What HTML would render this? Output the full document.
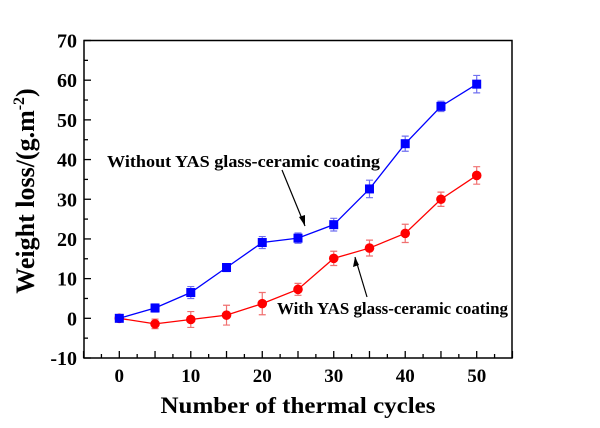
<!DOCTYPE html>
<html><head><meta charset="utf-8"><style>
body{margin:0;background:#fff;}
text{font-family:"Liberation Serif",serif;font-weight:bold;}
</style></head><body>
<svg id="chart" width="600" height="423" xmlns="http://www.w3.org/2000/svg">
<rect x="84" y="40.5" width="428" height="317.5" fill="none" stroke="#000" stroke-width="1.5"/>
<g id="axes"></g>
<g id="series"></g>
<text x="107" y="167" font-size="17" textLength="273" lengthAdjust="spacingAndGlyphs">Without YAS glass-ceramic coating</text>
<text x="277" y="314" font-size="17" textLength="231" lengthAdjust="spacingAndGlyphs">With YAS glass-ceramic coating</text>
<line x1="282" y1="170" x2="305" y2="226" stroke="#000" stroke-width="1.2"/>
<polygon points="305,226 299,217 305,215" fill="#000"/>
<line x1="367" y1="297" x2="355" y2="257" stroke="#000" stroke-width="1.2"/>
<polygon points="355,257 353,267 359,265" fill="#000"/>
<text transform="translate(34,191) rotate(-90)" text-anchor="middle" font-size="26">Weight loss/(g.m<tspan font-size="16" dy="-10">-2</tspan><tspan dy="10">)</tspan></text>
<text x="298" y="413" text-anchor="middle" font-size="23" textLength="275" lengthAdjust="spacingAndGlyphs">Number of thermal cycles</text>
</svg>
<script>
const cycles=[0,5,10,15,20,25,30,35,40,45,50];
const withoutVals=[0,2.6,6.5,12.8,19.1,20.2,23.6,32.6,44,53.4,59];
const withoutErr=[0.6,1,1.5,1,1.5,1.3,1.6,2.2,1.9,1.3,2.2];
const withVals=[0,-1.4,-0.3,0.8,3.7,7.3,15.1,17.7,21.4,30,36];
const withErr=[0.5,1.2,2,2.5,2.8,1.5,1.8,2,2.3,1.8,2.2];
const xTicks=[0,10,20,30,40,50];
const yTicks=[-10,0,10,20,30,40,50,60,70];
const NS="http://www.w3.org/2000/svg";
const X=v=>119.3+v*(476.7-119.3)/50;
const Y=v=>358-(v+10)*(358-40.5)/80;
const ax=document.getElementById('axes'),se=document.getElementById('series');
function mk(t,a,p){const e=document.createElementNS(NS,t);for(const k in a)e.setAttribute(k,a[k]);p.appendChild(e);return e;}
for(let v=-10;v<=70;v+=5){const maj=v%10===0;
const l=mk('line',{x1:84,x2:84+(maj?7:4),y1:Y(v),y2:Y(v),stroke:'#000','stroke-width':1.3},ax);

}
for(let v=-5;v<=55;v+=2.5){const maj=v%5===0;
const l=mk('line',{x1:X(v),x2:X(v),y1:358,y2:358-(maj?7:4),stroke:'#000','stroke-width':1.3},ax);

}
yTicks.forEach(v=>{const t=mk('text',{x:77,y:Y(v)+7,'text-anchor':'end','font-size':20},ax);t.textContent=v;

});
xTicks.forEach(v=>{const t=mk('text',{x:X(v),y:382,'text-anchor':'middle','font-size':19},ax);t.textContent=v;

});
function series(vals,errs,color,ecolor,shape,name){
const pts=cycles.map((c,i)=>X(c)+','+Y(vals[i])).join(' ');
const pl=mk('polyline',{points:pts,fill:'none',stroke:color,'stroke-width':1.3},se);


cycles.forEach((c,i)=>{const x=X(c),y1=Y(vals[i]+errs[i]),y2=Y(vals[i]-errs[i]);
const g=mk('path',{d:`M${x},${y1}V${y2}M${x-3.5},${y1}H${x+3.5}M${x-3.5},${y2}H${x+3.5}`,stroke:ecolor,'stroke-width':1.2,fill:'none'},se);


const y=Y(vals[i]);let m;
if(shape==='sq')m=mk('rect',{x:x-4.5,y:y-4.5,width:9,height:9,fill:color},se);
else m=mk('circle',{cx:x,cy:y,r:4.8,fill:color},se);

});}
series(withVals,withErr,'#ff0000','#f07070','ci','with-coating');
series(withoutVals,withoutErr,'#0000ff','#7070f0','sq','without-coating');
</script>
</body></html>
